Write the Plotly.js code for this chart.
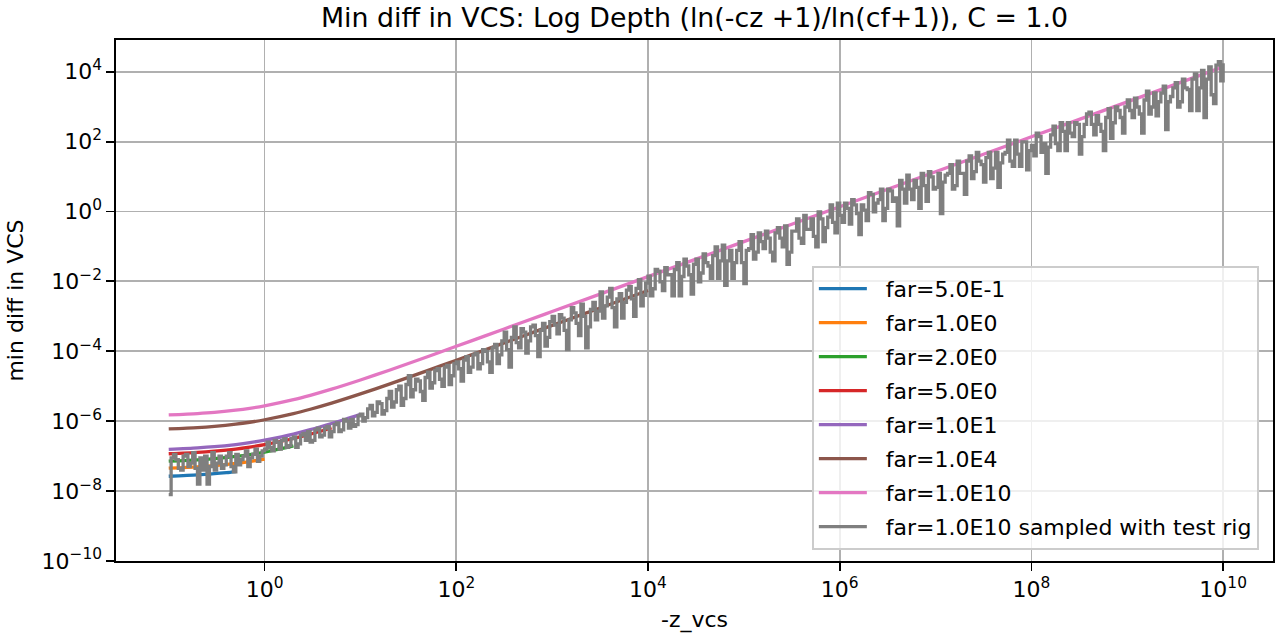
<!DOCTYPE html>
<html>
<head>
<meta charset="utf-8">
<script src="https://cdn.plot.ly/plotly-3.0.1.min.js"></script>
<style>
  html, body { margin: 0; padding: 0; background: #fff; }
  #chart { width: 1280px; height: 640px; }
</style>
</head>
<body>
<div id="chart"></div>
<script>
// curves, x = -z_vcs, y = min diff in VCS
const farNames = ["far=5.0E-1", "far=1.0E0", "far=2.0E0", "far=5.0E0", "far=1.0E1", "far=1.0E4", "far=1.0E10"];
const farColors = ["#1f77b4", "#ff7f0e", "#2ca02c", "#d62728", "#9467bd", "#8c564b", "#e377c2"];

const x05 = [0.1, 0.2, 0.3, 0.4, 0.5];
const y05 = [2.66e-8, 2.90e-8, 3.15e-8, 3.39e-8, 3.63e-8];

const x1 = [0.1, 0.2, 0.3, 0.5, 0.7, 1.0];
const y1 = [4.54e-8, 4.96e-8, 5.37e-8, 6.20e-8, 7.02e-8, 8.26e-8];

const x2 = [0.1, 0.2, 0.3, 0.5, 0.7, 1, 1.5, 2];
const y2 = [7.21e-8, 7.86e-8, 8.52e-8, 9.83e-8, 1.11e-7, 1.31e-7, 1.64e-7, 1.97e-7];

const x5 = [0.1, 0.2, 0.3, 0.5, 0.7, 1, 1.5, 2, 3, 4, 5];
const y5 = [1.17e-7, 1.28e-7, 1.39e-7, 1.60e-7, 1.82e-7, 2.14e-7, 2.67e-7, 3.20e-7, 4.27e-7, 5.34e-7, 6.41e-7];

const x10 = [0.1, 0.2, 0.3, 0.5, 0.7, 1, 1.5, 2, 3, 5, 7, 10];
const y10 = [1.57e-7, 1.72e-7, 1.86e-7, 2.15e-7, 2.43e-7, 2.86e-7, 3.58e-7, 4.29e-7, 5.72e-7, 8.58e-7, 1.14e-6, 1.57e-6];

const x1e4 = [0.1, 0.2, 0.3, 0.5, 0.7, 1, 2, 3, 5, 10, 20, 50, 100, 200, 500, 1e3, 2e3, 5e3, 1e4];
const y1e4 = [6.04e-7, 6.59e-7, 7.14e-7, 8.24e-7, 9.33e-7, 1.10e-6, 1.65e-6, 2.20e-6, 3.29e-6, 6.04e-6,
              1.15e-5, 2.80e-5, 5.54e-5, 1.10e-4, 2.75e-4, 5.50e-4, 1.10e-3, 2.75e-3, 5.49e-3];

const x1e10 = [0.1, 0.2, 0.3, 0.5, 0.7, 1, 2, 3, 5, 10, 20, 50, 100, 200, 500, 1e3,
               1e4, 1e5, 1e6, 1e7, 1e8, 1e9, 1e10];
const y1e10 = [1.51e-6, 1.65e-6, 1.78e-6, 2.06e-6, 2.33e-6, 2.75e-6, 4.12e-6, 5.49e-6, 8.24e-6, 1.51e-5,
               2.88e-5, 7.00e-5, 1.39e-4, 2.76e-4, 6.88e-4, 1.37e-3,
               1.37e-2, 0.137, 1.37, 13.7, 137, 1373, 13730];

// test rig samples, stored as log10 values (one row per decade)
const grayLogX = [
  -1, -0.975, -0.95, -0.925, -0.9, -0.875, -0.85, -0.825, -0.8, -0.775, -0.75, -0.725, -0.7, -0.675, -0.65, -0.625, -0.6, -0.575, -0.55, -0.525,
  -0.5, -0.475, -0.45, -0.425, -0.4, -0.375, -0.35, -0.325, -0.3, -0.275, -0.25, -0.225, -0.2, -0.175, -0.15, -0.125, -0.1, -0.075, -0.05, -0.025,
  0, 0.025, 0.05, 0.075, 0.1, 0.125, 0.15, 0.175, 0.2, 0.225, 0.25, 0.275, 0.3, 0.325, 0.35, 0.375, 0.4, 0.425, 0.45, 0.475,
  0.5, 0.525, 0.55, 0.575, 0.6, 0.625, 0.65, 0.675, 0.7, 0.725, 0.75, 0.775, 0.8, 0.825, 0.85, 0.875, 0.9, 0.925, 0.95, 0.975,
  1, 1.025, 1.05, 1.075, 1.1, 1.125, 1.15, 1.175, 1.2, 1.225, 1.25, 1.275, 1.3, 1.325, 1.35, 1.375, 1.4, 1.425, 1.45, 1.475,
  1.5, 1.525, 1.55, 1.575, 1.6, 1.625, 1.65, 1.675, 1.7, 1.725, 1.75, 1.775, 1.8, 1.825, 1.85, 1.875, 1.9, 1.925, 1.95, 1.975,
  2, 2.025, 2.05, 2.075, 2.1, 2.125, 2.15, 2.175, 2.2, 2.225, 2.25, 2.275, 2.3, 2.325, 2.35, 2.375, 2.4, 2.425, 2.45, 2.475,
  2.5, 2.525, 2.55, 2.575, 2.6, 2.625, 2.65, 2.675, 2.7, 2.725, 2.75, 2.775, 2.8, 2.825, 2.85, 2.875, 2.9, 2.925, 2.95, 2.975,
  3, 3.025, 3.05, 3.075, 3.1, 3.125, 3.15, 3.175, 3.2, 3.225, 3.25, 3.275, 3.3, 3.325, 3.35, 3.375, 3.4, 3.425, 3.45, 3.475,
  3.5, 3.525, 3.55, 3.575, 3.6, 3.625, 3.65, 3.675, 3.7, 3.725, 3.75, 3.775, 3.8, 3.825, 3.85, 3.875, 3.9, 3.925, 3.95, 3.975,
  4, 4.025, 4.05, 4.075, 4.1, 4.125, 4.15, 4.175, 4.2, 4.225, 4.25, 4.275, 4.3, 4.325, 4.35, 4.375, 4.4, 4.425, 4.45, 4.475,
  4.5, 4.525, 4.55, 4.575, 4.6, 4.625, 4.65, 4.675, 4.7, 4.725, 4.75, 4.775, 4.8, 4.825, 4.85, 4.875, 4.9, 4.925, 4.95, 4.975,
  5, 5.025, 5.05, 5.075, 5.1, 5.125, 5.15, 5.175, 5.2, 5.225, 5.25, 5.275, 5.3, 5.325, 5.35, 5.375, 5.4, 5.425, 5.45, 5.475,
  5.5, 5.525, 5.55, 5.575, 5.6, 5.625, 5.65, 5.675, 5.7, 5.725, 5.75, 5.775, 5.8, 5.825, 5.85, 5.875, 5.9, 5.925, 5.95, 5.975,
  6, 6.025, 6.05, 6.075, 6.1, 6.125, 6.15, 6.175, 6.2, 6.225, 6.25, 6.275, 6.3, 6.325, 6.35, 6.375, 6.4, 6.425, 6.45, 6.475,
  6.5, 6.525, 6.55, 6.575, 6.6, 6.625, 6.65, 6.675, 6.7, 6.725, 6.75, 6.775, 6.8, 6.825, 6.85, 6.875, 6.9, 6.925, 6.95, 6.975,
  7, 7.025, 7.05, 7.075, 7.1, 7.125, 7.15, 7.175, 7.2, 7.225, 7.25, 7.275, 7.3, 7.325, 7.35, 7.375, 7.4, 7.425, 7.45, 7.475,
  7.5, 7.525, 7.55, 7.575, 7.6, 7.625, 7.65, 7.675, 7.7, 7.725, 7.75, 7.775, 7.8, 7.825, 7.85, 7.875, 7.9, 7.925, 7.95, 7.975,
  8, 8.025, 8.05, 8.075, 8.1, 8.125, 8.15, 8.175, 8.2, 8.225, 8.25, 8.275, 8.3, 8.325, 8.35, 8.375, 8.4, 8.425, 8.45, 8.475,
  8.5, 8.525, 8.55, 8.575, 8.6, 8.625, 8.65, 8.675, 8.7, 8.725, 8.75, 8.775, 8.8, 8.825, 8.85, 8.875, 8.9, 8.925, 8.95, 8.975,
  9, 9.025, 9.05, 9.075, 9.1, 9.125, 9.15, 9.175, 9.2, 9.225, 9.25, 9.275, 9.3, 9.325, 9.35, 9.375, 9.4, 9.425, 9.45, 9.475,
  9.5, 9.525, 9.55, 9.575, 9.6, 9.625, 9.65, 9.675, 9.7, 9.725, 9.75, 9.775, 9.8, 9.825, 9.85, 9.875, 9.9, 9.925, 9.95, 9.975,
  10
];
const grayLogY = [
  -8.10, -7.05, -6.95, -7.10, -7.35, -7.40, -7.00, -6.95, -7.30, -7.20, -6.90, -7.35, -7.80, -7.05, -7.40, -7.00, -7.80, -7.30, -6.90, -7.40,
  -7.20, -7.00, -7.35, -7.25, -7.00, -6.90, -7.30, -7.45, -6.95, -7.25, -7.10, -7.00, -6.85, -7.30, -7.05, -6.95, -6.80, -7.15, -7.00, -6.85,
  -6.80, -6.60, -6.75, -6.85, -6.55, -6.60, -6.80, -6.55, -6.50, -6.75, -6.70, -6.50, -6.45, -6.75, -6.65, -6.40, -6.35, -6.55, -6.30, -6.60,
  -6.55, -6.25, -6.20, -6.45, -6.40, -6.20, -6.15, -6.45, -6.30, -6.10, -6.05, -6.30, -6.25, -5.95, -6.00, -6.20, -5.95, -6.15, -6.10, -5.85,
  -5.80, -6.00, -5.90, -5.65, -5.55, -5.85, -5.75, -5.45, -5.50, -5.80, -5.70, -5.35, -5.15, -5.60, -5.45, -5.10, -5.00, -5.55, -5.35, -4.95,
  -4.70, -5.30, -5.10, -4.80, -4.85, -5.15, -5.40, -4.75, -4.60, -5.05, -4.90, -4.55, -4.50, -4.80, -5.00, -4.45, -4.40, -4.95, -4.70, -4.35,
  -4.30, -4.50, -4.85, -4.25, -4.15, -4.60, -4.45, -4.10, -4.05, -4.50, -4.35, -3.95, -4.00, -4.30, -4.60, -3.90, -3.80, -4.35, -4.10, -3.70,
  -3.45, -3.95, -4.45, -3.60, -3.30, -3.75, -3.90, -3.35, -3.45, -4.05, -3.70, -3.30, -3.25, -3.55, -4.15, -3.40, -3.20, -3.85, -3.60, -3.15,
  -3.00, -3.25, -3.50, -2.95, -3.05, -3.40, -3.95, -3.10, -2.75, -2.90, -3.20, -3.55, -2.65, -3.00, -3.90, -3.30, -2.80, -2.60, -3.10, -2.85,
  -2.30, -3.05, -2.70, -2.45, -2.20, -2.75, -3.30, -2.50, -2.35, -3.05, -2.60, -2.25, -2.15, -2.50, -3.00, -2.20, -1.95, -2.70, -2.40, -2.05,
  -1.85, -2.41, -2.21, -1.66, -1.71, -2.01, -2.26, -1.61, -1.81, -1.81, -2.41, -1.66, -1.46, -2.41, -1.86, -1.36, -1.56, -1.81, -2.36, -1.51,
  -1.36, -2.01, -1.76, -1.21, -1.46, -1.56, -1.91, -1.26, -1.01, -1.91, -1.41, -0.96, -2.11, -1.41, -1.11, -1.91, -1.46, -1.11, -0.86, -1.46,
  -2.06, -1.11, -1.06, -0.66, -1.36, -1.16, -0.61, -0.86, -1.06, -0.56, -0.76, -1.16, -1.41, -0.61, -0.46, -0.76, -1.01, -0.41, -1.51, -1.16,
  -0.56, -0.56, -0.21, -0.76, -0.91, -0.11, -0.51, -0.51, -0.21, -0.71, -1.01, -0.01, -0.21, -0.86, -0.46, -0.16, 0.19, -0.31, -0.61, 0.24,
  -0.11, -0.31, 0.24, 0.09, -0.36, 0.34, 0.19, -0.06, -0.66, 0.19, 0.04, -0.26, 0.54, 0.49, -0.01, 0.24, 0.34, 0.64, -0.26, 0.09,
  0.64, 0.59, 0.29, 0.39, -0.41, 0.89, 0.64, 0.24, 1.04, 0.64, 0.34, 0.89, 0.69, 0.09, 1.09, 0.74, 0.29, 1.14, 0.99, 0.64,
  0.69, 1.09, -0.06, 0.84, 1.04, 1.09, 1.34, 0.64, 0.74, 1.44, 1.09, 1.09, 0.49, 1.44, 1.59, 0.94, 1.14, 1.69, 1.44, 1.34,
  0.84, 1.54, 1.69, 0.94, 1.24, 1.69, 0.69, 1.39, 1.64, 1.69, 2.04, 1.44, 1.29, 2.04, 1.64, 1.29, 1.99, 1.99, 1.19, 1.74,
  1.89, 1.59, 2.24, 2.14, 1.69, 1.94, 1.09, 1.84, 2.19, 2.44, 1.94, 1.74, 2.54, 2.29, 1.74, 2.54, 2.24, 2.14, 2.54, 2.49,
  1.64, 2.14, 2.49, 2.79, 2.84, 2.49, 2.19, 2.74, 2.49, 2.29, 1.74, 2.69, 2.94, 2.09, 2.54, 2.99, 2.89, 2.69, 2.24, 2.99,
  3.19, 2.89, 2.69, 3.24, 2.99, 2.79, 2.24, 3.19, 3.44, 2.79, 2.99, 3.39, 2.74, 3.14, 3.39, 3.59, 2.34, 3.14, 3.29, 3.54,
  3.69, 2.99, 3.14, 3.79, 3.54, 3.49, 2.89, 3.79, 3.94, 2.89, 3.54, 4.04, 2.69, 3.79, 4.14, 3.34, 3.09, 4.19, 4.29, 3.74,
  4.24
];

const xTickVals = [1, 1e2, 1e4, 1e6, 1e8, 1e10];
const xTickText = ["10<sup>0</sup>", "10<sup>2</sup>", "10<sup>4</sup>", "10<sup>6</sup>", "10<sup>8</sup>", "10<sup>10</sup>"];
const yTickVals = [1e-10, 1e-8, 1e-6, 1e-4, 1e-2, 1, 1e2, 1e4];
const yTickText = ["10<sup>−10</sup>", "10<sup>−8</sup>", "10<sup>−6</sup>", "10<sup>−4</sup>", "10<sup>−2</sup>",
                   "10<sup>0</sup>", "10<sup>2</sup>", "10<sup>4</sup>"];

const farX = [x05, x1, x2, x5, x10, x1e4, x1e10];
const farY = [y05, y1, y2, y5, y10, y1e4, y1e10];

// non-breaking spaces push the legend text away from the line sample, as in matplotlib
const pad = "\u00a0\u00a0";

const traces = farNames.map((name, i) => ({
  x: farX[i],
  y: farY[i],
  name: pad + name,
  legendgroup: "g" + i,
  type: "scatter",
  mode: "lines",
  line: { color: farColors[i], width: 3.3, shape: "spline", smoothing: 0.8 },
}));

// the rig output is quantised, so it is drawn as steps
traces.push({
  x: grayLogX.map((v) => Math.pow(10, v)),
  y: grayLogY.map((v) => Math.pow(10, v)),
  name: pad + "far=1.0E10 sampled with test rig",
  legendgroup: "g7",
  type: "scatter",
  mode: "lines",
  line: { color: "#7f7f7f", width: 3.3, shape: "hv" },
});

const axisCommon = {
  type: "log",
  showline: true,
  mirror: true,
  linecolor: "#000",
  linewidth: 1.8,
  ticks: "outside",
  ticklen: 7.8,
  tickwidth: 1.8,
  tickcolor: "#000",
  showgrid: true,
  gridcolor: "#b0b0b0",
  gridwidth: 1.8,
  tickmode: "array",
  tickfont: { size: 22, color: "#000" },
};

const layout = {
  width: 1280,
  height: 640,
  margin: { l: 116, r: 7, t: 40, b: 79 },
  paper_bgcolor: "#fff",
  plot_bgcolor: "#fff",
  font: { family: "DejaVu Sans", size: 22, color: "#000" },
  title: {
    text: "Min diff in VCS: Log Depth (ln(-cz +1)/ln(cf+1)), C = 1.0",
    font: { size: 26.8, color: "#000" },
    x: 0.5,
    xref: "paper",
    y: 0.972,
    yanchor: "middle",
  },
  xaxis: Object.assign({}, axisCommon, {
    range: [-1.55, 10.52],
    tickvals: xTickVals,
    ticktext: xTickText,
    title: { text: "-z_vcs", font: { size: 22 }, standoff: 10 },
  }),
  yaxis: Object.assign({}, axisCommon, {
    range: [-10, 4.907],
    tickvals: yTickVals,
    ticktext: yTickText,
    title: { text: "min diff in VCS", font: { size: 22 }, standoff: 12 },
  }),
  showlegend: true,
  legend: {
    x: 0.6016,
    y: 0.021,
    xanchor: "left",
    yanchor: "bottom",
    bgcolor: "rgba(255,255,255,0.8)",
    bordercolor: "#cccccc",
    borderwidth: 1.8,
    font: { size: 22, color: "#000" },
    traceorder: "grouped",
    tracegroupgap: 2.4,
    itemwidth: 48,
  },
  hovermode: false,
};

Plotly.newPlot("chart", traces, layout, { displayModeBar: false, staticPlot: true });
</script>
</body>
</html>
